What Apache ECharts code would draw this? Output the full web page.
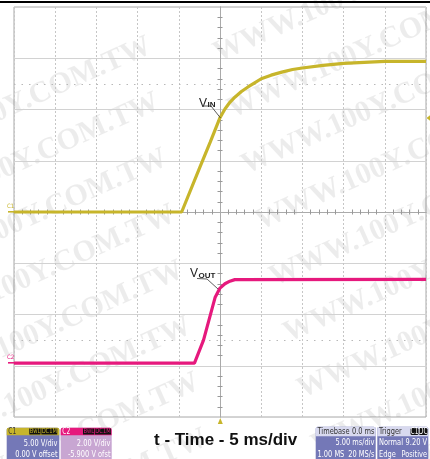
<!DOCTYPE html>
<html>
<head>
<meta charset="utf-8">
<script src="https://cdn.jsdelivr.net/npm/echarts@6/dist/echarts.min.js"></script>
<style>
  html, body { margin: 0; padding: 0; background: #fff; }
  #scope { width: 430px; height: 459px; }
</style>
</head>
<body>
<div id="scope"></div>
<script>
// time in ms (5 ms/div, trigger at 0), volts per channel
var vinTime  = [-25, -4.65, -2.4, -1.2, 0, 0.6, 1.2, 1.8, 2.6, 3.4, 4.2, 5, 6.2, 7.5, 8.8, 10, 12.5, 15, 17.5, 20, 22.5, 25];
var vinVolts = [0, 0, 4.45, 6.8, 9.2, 10.05, 10.7, 11.2, 11.75, 12.2, 12.6, 13.0, 13.35, 13.65, 13.9, 14.05, 14.3, 14.5, 14.6, 14.7, 14.7, 14.7];
var voutTime  = [-25, -3.1, -2.0, -0.6, 0, 0.6, 1.2, 1.8, 25];
var voutVolts = [0, 0, 0.9, 2.56, 2.93, 3.1, 3.2, 3.26, 3.27];
// dotted marker levels (C1 volts)
var markerLevels = [12.5, -12.5];

var C1 = '#c7b52b', C2 = '#e6197d';
var BOX = '#7478b7', HEAD = '#d8d9ef';
var narrow = '"Liberation Sans Narrow", "DejaVu Sans Condensed", sans-serif';

var chart = echarts.init(document.getElementById('scope'));

function pairs(xs, ys) {
  return xs.map(function (x, i) { return [x, ys[i]]; });
}

// small helpers for the readout boxes
function txt(x, y, s, opt) {
  opt = opt || {};
  return {
    type: 'text', x: x, y: y, scaleX: opt.sx || 0.82, z: 20,
    style: {
      text: s, fill: opt.color || '#fff', align: opt.align || 'left', verticalAlign: 'middle',
      font: (opt.weight || 'normal') + ' ' + (opt.size || 9) + 'px ' + narrow
    }
  };
}
function rect(x, y, w, h, fill, r) {
  return { type: 'rect', z: 15, shape: { x: x, y: y, width: w, height: h, r: r || 0 }, style: { fill: fill } };
}

var graphics = [];

// watermark
var wm = 'WWW.100Y.COM.TW';
for (var k = 0; k < 9; k++) {
  var yk = 45 + k * 56;
  graphics.push({ type: 'text', x: 150 + k * 8, y: yk, rotation: 0.42, z: 0, silent: true,
    style: { text: wm, align: 'right', verticalAlign: 'middle', fill: 'rgba(0,0,0,0.075)', font: 'bold 30px "Liberation Serif", serif' } });
  graphics.push({ type: 'text', x: 215 + k * 14, y: yk + 10, rotation: 0.42, z: 0, silent: true,
    style: { text: wm, align: 'left', verticalAlign: 'middle', fill: 'rgba(0,0,0,0.075)', font: 'bold 30px "Liberation Serif", serif' } });
}

// top frame line
graphics.push(rect(0, 1, 430, 2, '#000'));

// trace labels
graphics.push({ type: 'text', x: 199, y: 98, z: 20, style: { text: 'V', fill: '#222', font: '12px "Liberation Sans", sans-serif', verticalAlign: 'alphabetic' } });
graphics.push({ type: 'text', x: 207.5, y: 101, z: 20, style: { text: 'IN', fill: '#222', font: 'bold 8px "Liberation Sans", sans-serif', verticalAlign: 'alphabetic' } });
graphics.push({ type: 'polyline', z: 20, shape: { points: [[204, 106], [211, 106], [220.5, 118]] }, style: { stroke: '#333', lineWidth: 0.8, fill: null } });
graphics.push({ type: 'text', x: 190, y: 268, z: 20, style: { text: 'V', fill: '#222', font: '12px "Liberation Sans", sans-serif', verticalAlign: 'alphabetic' } });
graphics.push({ type: 'text', x: 198.5, y: 272, z: 20, style: { text: 'OUT', fill: '#222', font: 'bold 8px "Liberation Sans", sans-serif', verticalAlign: 'alphabetic' } });
graphics.push({ type: 'polyline', z: 20, shape: { points: [[197, 278.5], [207, 279], [218, 289]] }, style: { stroke: '#333', lineWidth: 0.8, fill: null } });

// channel ground markers
graphics.push({ type: 'text', x: 7, y: 206, z: 20, style: { text: 'C1', fill: C1, font: '6px ' + narrow, verticalAlign: 'middle' } });
graphics.push(rect(8, 211, 6, 1.6, C1));
graphics.push({ type: 'text', x: 7, y: 357, z: 20, style: { text: 'C2', fill: C2, font: '6px ' + narrow, verticalAlign: 'middle' } });
graphics.push(rect(8, 362, 6, 1.6, C2));

// trigger markers
graphics.push({ type: 'polygon', z: 20, shape: { points: [[220.3, 418], [217.8, 424], [222.8, 424]] }, style: { fill: C1 } });
graphics.push({ type: 'polygon', z: 20, shape: { points: [[426.5, 118], [430, 115.3], [430, 120.7]] }, style: { fill: C1 } });

// C1 readout
graphics.push(rect(6.7, 427.7, 52.6, 32, BOX, [2, 2, 0, 0]));
graphics.push(rect(6.7, 427.7, 52.6, 7.5, C1, [2, 2, 0, 0]));
graphics.push(txt(8.3, 431.5, 'C1', { color: '#333', size: 8 }));
graphics.push(rect(29.3, 428.5, 11.3, 6, '#111'));
graphics.push(rect(41.3, 428.5, 16, 6, '#111'));
graphics.push(txt(35, 431.5, 'BwL', { color: C1, size: 7, align: 'center' }));
graphics.push(txt(49.3, 431.5, 'DC1M', { color: C1, size: 7, align: 'center' }));
graphics.push(txt(57.5, 443.3, '5.00 V/div', { align: 'right' }));
graphics.push(txt(57.5, 454.5, '0.00 V offset', { align: 'right' }));

// C2 readout
graphics.push(rect(60.7, 427.7, 51, 32, '#c8a6d2', [2, 2, 0, 0]));
graphics.push(rect(60.7, 427.7, 51, 7.5, C2, [2, 2, 0, 0]));
graphics.push(txt(62.3, 431.5, 'C2', { color: '#fff', size: 8 }));
graphics.push(rect(83, 428.5, 11.3, 6, '#111'));
graphics.push(rect(95, 428.5, 16, 6, '#111'));
graphics.push(txt(88.7, 431.5, 'BwL', { color: C2, size: 7, align: 'center' }));
graphics.push(txt(103, 431.5, 'DC1M', { color: C2, size: 7, align: 'center' }));
graphics.push(txt(110.5, 443.3, '2.00 V/div', { align: 'right' }));
graphics.push(txt(110.5, 454.5, '-5.900 V ofst', { align: 'right' }));

// Timebase readout
graphics.push(rect(315.7, 426.7, 60, 33, BOX, [2, 2, 0, 0]));
graphics.push(rect(315.7, 426.7, 60, 9.5, HEAD, [2, 2, 0, 0]));
graphics.push(txt(317.5, 432, 'Timebase', { color: '#333' }));
graphics.push(txt(374.5, 432, '0.0 ms', { color: '#333', align: 'right' }));
graphics.push(txt(374.5, 442.7, '5.00 ms/div', { align: 'right' }));
graphics.push(txt(317.5, 455, '1.00 MS', {}));
graphics.push(txt(374.5, 455, '20 MS/s', { align: 'right' }));

// Trigger readout
graphics.push(rect(377.3, 426.7, 51, 33, BOX, [2, 2, 0, 0]));
graphics.push(rect(377.3, 426.7, 51, 9.5, HEAD, [2, 2, 0, 0]));
graphics.push(txt(379, 432, 'Trigger', { color: '#333' }));
graphics.push(rect(410.5, 428, 8, 7, '#111', 1.5));
graphics.push(rect(419, 428, 8.5, 7, '#111', 1.5));
graphics.push(txt(414.5, 431.7, 'C1', { align: 'center', size: 8 }));
graphics.push(txt(423.2, 431.7, 'DC', { align: 'center', size: 8 }));
graphics.push(txt(379, 442.7, 'Normal', {}));
graphics.push(txt(427, 442.7, '9.20 V', { align: 'right' }));
graphics.push(txt(379, 455, 'Edge', {}));
graphics.push(txt(427, 455, 'Positive', { align: 'right' }));

var centerAxisX = function (inside) {
  return {
    type: 'value', min: -25, max: 25, interval: 5, position: 'bottom',
    axisLine: { show: true, onZero: true, onZeroAxisIndex: 0, lineStyle: { color: '#aaa', width: 1 } },
    axisTick: { show: false, inside: inside },
    minorTick: { show: true, splitNumber: 5, length: 2.5, lineStyle: { color: '#999' } },
    axisLabel: { show: false }, splitLine: { show: false }
  };
};
var centerAxisY = function (inside) {
  return {
    type: 'value', min: -20, max: 20, interval: 5, position: 'left',
    axisLine: { show: true, onZero: true, onZeroAxisIndex: 0, lineStyle: { color: '#aaa', width: 1 } },
    axisTick: { show: false, inside: inside },
    minorTick: { show: true, splitNumber: 5, length: 2.5, lineStyle: { color: '#999' } },
    axisLabel: { show: false }, splitLine: { show: false }
  };
};

var option = {
  animation: false,
  backgroundColor: '#fff',
  title: {
    text: 't - Time - 5 ms/div', left: 149, top: 427,
    textStyle: { fontSize: 17, fontWeight: 'bold', color: '#111', fontFamily: '"Liberation Sans", Arial, sans-serif' }
  },
  grid: { left: 14, right: 4, top: 7, bottom: 42, show: true, borderColor: '#a8a8a8', borderWidth: 1 },
  xAxis: [
    {
      type: 'value', min: -25, max: 25, interval: 5,
      axisLine: { show: false }, axisTick: { show: false }, axisLabel: { show: false },
      splitLine: { show: true, lineStyle: { color: '#c6c6c6', type: [2, 2], width: 1 } }
    },
    centerAxisX(false),
    centerAxisX(true)
  ],
  yAxis: [
    Object.assign(centerAxisY(false), {
      splitLine: { show: true, lineStyle: { color: '#d2d2d2', width: 1 } }
    }),
    // C2: 2 V/div, -5.9 V offset -> centre at 5.9 V
    { type: 'value', min: -2.1, max: 13.9, show: false, splitLine: { show: false } },
    centerAxisY(true)
  ],
  graphic: graphics,
  series: [
    {
      name: 'VIN', type: 'line', xAxisIndex: 0, yAxisIndex: 0, z: 5,
      showSymbol: false, silent: true,
      data: pairs(vinTime, vinVolts),
      lineStyle: { color: C1, width: 3.2 },
      markLine: {
        silent: true, symbol: 'none', label: { show: false },
        lineStyle: { color: '#b8b8b8', type: [1.5, 6], width: 1 },
        data: markerLevels.map(function (v) { return { yAxis: v }; })
      }
    },
    {
      name: 'VOUT', type: 'line', xAxisIndex: 0, yAxisIndex: 1, z: 5,
      showSymbol: false, silent: true,
      data: pairs(voutTime, voutVolts),
      lineStyle: { color: C2, width: 3.2 }
    }
  ]
};

chart.setOption(option);
</script>
</body>
</html>
